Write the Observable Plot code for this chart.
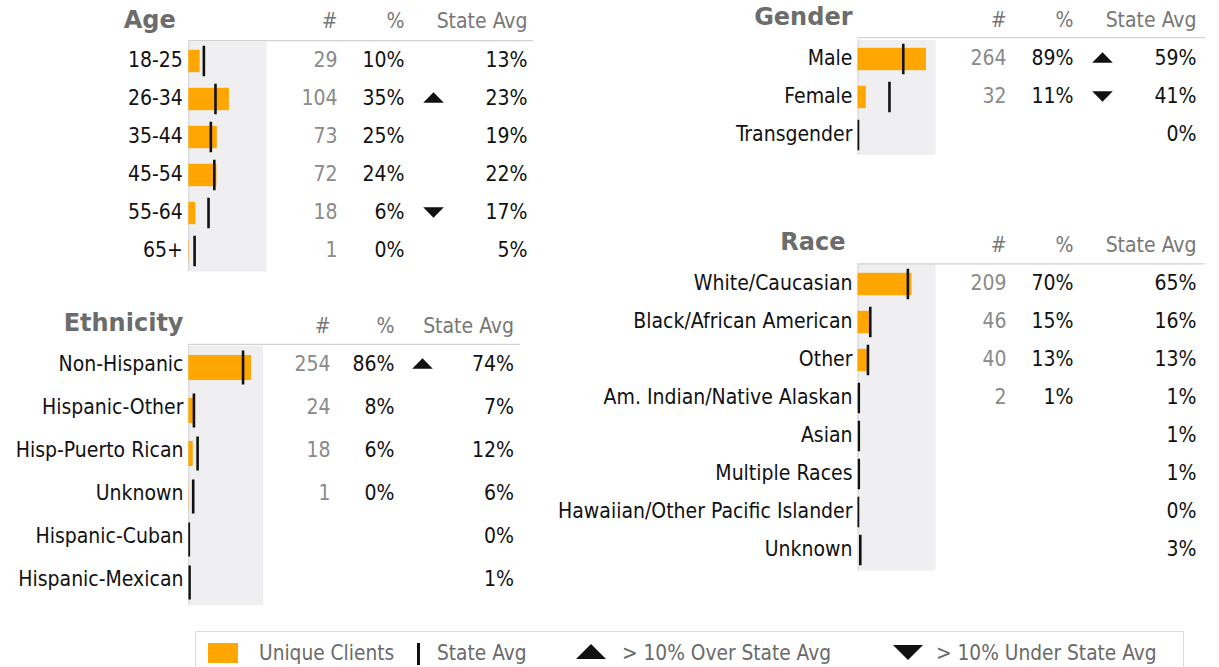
<!DOCTYPE html>
<html>
<head>
<meta charset="utf-8">
<script src="https://cdn.jsdelivr.net/npm/d3@7"></script>
<script src="https://cdn.jsdelivr.net/npm/@observablehq/plot@0.6"></script>
<style>
  body { margin: 0; background: #fff; }
  #wrap { position: relative; width: 1219px; height: 667px; overflow: hidden;
          font-family: "DejaVu Sans Condensed", "Liberation Sans", sans-serif; }
  .panel { position: absolute; }
  #legend { position: absolute; left: 195px; top: 631px; width: 989px; height: 60px;
            border: 1px solid #dcdcdc; box-sizing: border-box; }
  #legend .sw { position: absolute; }
  #legend .lt { position: absolute; top: 9px; line-height: 24px; font-size: 20.7px; color: #6a6a6a; white-space: nowrap; }
</style>
</head>
<body>
<div id="wrap"><div id="legend"></div></div>
<script>
// ---------------- data ----------------
const columnHeaders = ["#", "%", "State Avg"];

const ageCategories = ["18-25", "26-34", "35-44", "45-54", "55-64", "65+"];
const ageCounts     = [29, 104, 73, 72, 18, 1];
const ageStateAvg   = [13, 23, 19, 22, 17, 5];

const genderCategories = ["Male", "Female", "Transgender"];
const genderCounts     = [264, 32, null];
const genderStateAvg   = [59, 41, 0];

const ethnicityCategories = ["Non-Hispanic", "Hispanic-Other", "Hisp-Puerto Rican", "Unknown", "Hispanic-Cuban", "Hispanic-Mexican"];
const ethnicityCounts     = [254, 24, 18, 1, null, null];
const ethnicityStateAvg   = [74, 7, 12, 6, 0, 1];

const raceCategories = ["White/Caucasian", "Black/African American", "Other", "Am. Indian/Native Alaskan", "Asian", "Multiple Races", "Hawaiian/Other Pacific Islander", "Unknown"];
const raceCounts     = [209, 46, 40, 2, null, null, null, null];
const raceStateAvg   = [65, 16, 13, 1, 1, 1, 0, 3];

const legendLabels = ["Unique Clients", "State Avg", "> 10% Over State Avg", "> 10% Under State Avg"];

// ---------------- styles ----------------
const ORANGE = "#ffa600";
const BG = "#efeff1";
const INK = "#111";
const FONT = '"DejaVu Sans Condensed", "Liberation Sans", sans-serif';

const triUp = {draw(ctx, size) { const r = Math.sqrt(size / Math.PI);
  ctx.moveTo(0, -0.55 * r); ctx.lineTo(r, 0.45 * r); ctx.lineTo(-r, 0.45 * r); ctx.closePath(); }};
const triDown = {draw(ctx, size) { const r = Math.sqrt(size / Math.PI);
  ctx.moveTo(0, 0.55 * r); ctx.lineTo(r, -0.45 * r); ctx.lineTo(-r, -0.45 * r); ctx.closePath(); }};

function panel(title, categories, counts, stateAvg, L) {
  const total = d3.sum(counts);
  const rows = categories.map((cat, i) => ({
    cat, count: counts[i],
    pct: counts[i] == null ? null : counts[i] / total,
    state: stateAvg[i] / 100
  }));
  const withCount = rows.filter(d => d.count != null);
  const up = withCount.filter(d => (d.pct - d.state) * 100 > 10);
  const down = withCount.filter(d => (d.state - d.pct) * 100 > 10);
  const bw = (L.height - L.marginTop - L.marginBottom) / rows.length;
  const fmt = d3.format(".0%");
  const barInset = (bw - L.barH) / 2, tickInset = (bw - L.tickH) / 2;
  const tdy = L.textDy;
  const hdr = (txt, dx) => Plot.text([txt], {text: d => d, frameAnchor: "top-right", lineAnchor: "middle", dx, dy: L.headerDy,
    textAnchor: "end", fill: "#777"});

  const chart = Plot.plot({
    width: L.width, height: L.height,
    marginLeft: L.marginLeft, marginRight: L.marginRight, marginTop: L.marginTop, marginBottom: L.marginBottom,
    x: {domain: [0, L.xMax], axis: null},
    y: {type: "band", domain: categories, padding: 0, axis: null},
    style: {fontFamily: FONT, fontSize: "21px", background: "transparent", overflow: "visible"},
    marks: [
      Plot.frame({fill: BG, stroke: "none"}),
      Plot.ruleX([0], {stroke: "#cfcfcf"}),
      Plot.ruleY([categories[0]], {dy: -bw / 2 - L.lineGap, insetRight: -L.lineExtend, stroke: "#d2d2d2", strokeWidth: 1.3}),
      Plot.barX(withCount, {x: "pct", y: "cat", fill: ORANGE, insetTop: barInset, insetBottom: barInset}),
      Plot.tickX(rows, {x: "state", y: "cat", stroke: INK, strokeWidth: 2.6, insetTop: tickInset, insetBottom: tickInset, clip: true}),
      Plot.text(rows, {y: "cat", text: "cat", frameAnchor: "left", dx: L.labelDx, dy: tdy, textAnchor: "end", fill: INK}),
      Plot.text(withCount, {y: "cat", text: d => String(d.count), frameAnchor: "right", dx: L.colN, dy: tdy, textAnchor: "end", fill: "#8a8a8a"}),
      Plot.text(withCount, {y: "cat", text: d => fmt(d.pct), frameAnchor: "right", dx: L.colPct, dy: tdy, textAnchor: "end", fill: INK}),
      Plot.dot(up, {y: "cat", frameAnchor: "right", dx: L.colTri, dy: tdy, symbol: triUp, r: 10.3, fill: INK, stroke: "none"}),
      Plot.dot(down, {y: "cat", frameAnchor: "right", dx: L.colTri, dy: tdy, symbol: triDown, r: 10.3, fill: INK, stroke: "none"}),
      Plot.text(rows, {y: "cat", text: d => Math.round(d.state * 100) + "%", frameAnchor: "right", dx: L.colAvg, dy: tdy, textAnchor: "end", fill: INK}),
      hdr(columnHeaders[0], L.colN),
      hdr(columnHeaders[1], L.colPct),
      hdr(columnHeaders[2], L.colAvg),
      Plot.text([title], {text: d => d, frameAnchor: "top-left", lineAnchor: "middle", dx: L.titleDx, dy: L.titleDy, textAnchor: "end",
        fontFamily: '"DejaVu Sans", sans-serif', fontWeight: "bold", fontSize: 24, fill: "#6c6c6c"})
    ]
  });
  chart.classList.add("panel");
  chart.style.left = L.left + "px";
  chart.style.top = L.top + "px";
  return chart;
}

const wrap = document.getElementById("wrap");
const leftCols = {colN: 71, colPct: 138, colTri: 167, colAvg: 261};

wrap.appendChild(panel("Age", ageCategories, ageCounts, ageStateAvg, {
  left: 0, top: 0, width: 545, height: 280,
  marginLeft: 188.3, marginRight: 279, marginTop: 41, marginBottom: 9,
  xMax: 0.67, barH: 22.7, tickH: 31, labelDx: -6, textDy: -1.5, ...leftCols,
  lineGap: 1.7, lineExtend: 267, headerDy: -20, titleDx: -13, titleDy: -21
}));

wrap.appendChild(panel("Gender", genderCategories, genderCounts, genderStateAvg, {
  left: 545, top: 0, width: 674, height: 160,
  marginLeft: 312.5, marginRight: 284, marginTop: 39.5, marginBottom: 5.5,
  xMax: 1.01, barH: 22.7, tickH: 31, labelDx: -5.5, textDy: -1.5, ...leftCols,
  lineGap: 2.8, lineExtend: 270, headerDy: -19.5, titleDx: -5.5, titleDy: -22.5
}));

wrap.appendChild(panel("Ethnicity", ethnicityCategories, ethnicityCounts, ethnicityStateAvg, {
  left: 0, top: 300, width: 545, height: 310,
  marginLeft: 188.3, marginRight: 282.3, marginTop: 45.4, marginBottom: 5.4,
  xMax: 1.015, barH: 25.3, tickH: 34, labelDx: -5.3, textDy: -4,
  colN: 67.3, colPct: 131.3, colTri: 159.3, colAvg: 250.8,
  lineGap: 2.1, lineExtend: 257.3, headerDy: -19.4, titleDx: -5.3, titleDy: -22.4
}));

wrap.appendChild(panel("Race", raceCategories, raceCounts, raceStateAvg, {
  left: 545, top: 225, width: 674, height: 355,
  marginLeft: 312.5, marginRight: 284, marginTop: 38.5, marginBottom: 10,
  xMax: 1.01, barH: 22.7, tickH: 31, labelDx: -5.5, textDy: -1.5, ...leftCols,
  lineGap: 1.5, lineExtend: 270, headerDy: -18.5, titleDx: -12.5, titleDy: -21.5
}));

// ---------------- legend ----------------
const legend = document.getElementById("legend");
function addEl(html) { legend.insertAdjacentHTML("beforeend", html); }
addEl(`<div class="sw" style="left:12px;top:11px;width:30px;height:20px;background:${ORANGE}"></div>`);
addEl(`<div class="lt" style="left:63px">${legendLabels[0]}</div>`);
addEl(`<div class="sw" style="left:221px;top:11px;width:3px;height:22px;background:${INK}"></div>`);
addEl(`<div class="lt" style="left:241px">${legendLabels[1]}</div>`);
addEl(`<svg class="sw" style="left:380px;top:12px" width="30" height="15"><polygon points="15,0 30,15 0,15" fill="${INK}"/></svg>`);
addEl(`<div class="lt" style="left:426px">${legendLabels[2].replace(">", "&gt;")}</div>`);
addEl(`<svg class="sw" style="left:697px;top:13px" width="30" height="15"><polygon points="0,0 30,0 15,15" fill="${INK}"/></svg>`);
addEl(`<div class="lt" style="left:740px">${legendLabels[3].replace(">", "&gt;")}</div>`);
</script>
</body>
</html>
